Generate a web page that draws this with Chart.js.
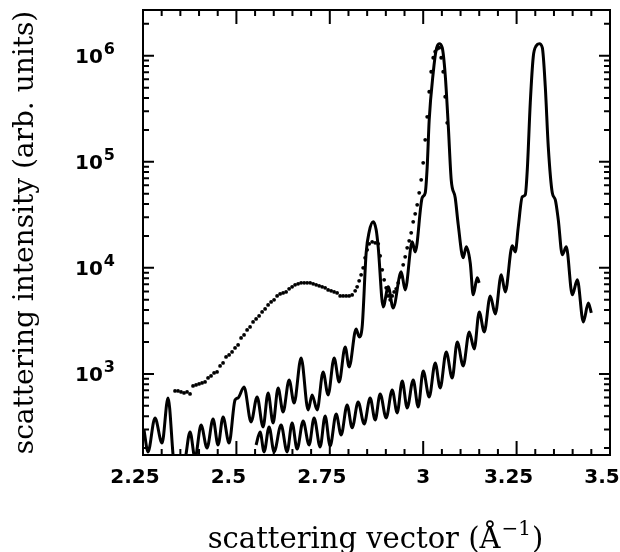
<!DOCTYPE html>
<html>
<head>
<meta charset="utf-8">
<script src="https://cdn.jsdelivr.net/npm/chart.js@4.4.1/dist/chart.umd.min.js"></script>
<style>
  body { margin: 0; background: #fff; }
  canvas { display: block; }
</style>
</head>
<body>
<canvas id="chart" width="620" height="552"></canvas>
<script>
// measured points (dots)
const qMeasured = [2.3357, 2.3438, 2.3518, 2.3598, 2.3679, 2.3759, 2.3839, 2.392, 2.4, 2.408,
  2.4161, 2.4241, 2.4321, 2.4402, 2.4482, 2.4563, 2.4643, 2.4723, 2.4804, 2.4884,
  2.4964, 2.5045, 2.5125, 2.5205, 2.5286, 2.5366, 2.5446, 2.5527, 2.5607, 2.5688,
  2.5768, 2.5848, 2.5929, 2.6009, 2.6089, 2.617, 2.625, 2.633, 2.6411, 2.6491,
  2.6571, 2.6652, 2.6732, 2.6813, 2.6893, 2.6973, 2.7054, 2.7134, 2.7214, 2.7295,
  2.7375, 2.7455, 2.7536, 2.7616, 2.7696, 2.7777, 2.7857, 2.7938, 2.8018, 2.8098,
  2.8179, 2.8232, 2.8286, 2.8339, 2.8393, 2.8446, 2.85, 2.8554, 2.8634, 2.8714,
  2.8795, 2.8848, 2.8902, 2.8955, 2.9009, 2.9063, 2.9116, 2.917, 2.9223, 2.9277,
  2.933, 2.9384, 2.9464, 2.9518, 2.9571, 2.9625, 2.9679, 2.9732, 2.9786, 2.9839,
  2.9893, 2.9946, 3.0, 3.0054, 3.0107, 3.0161, 3.0214, 3.0268, 3.0321, 3.0375,
  3.0429, 3.0482, 3.0536, 3.0589, 3.0643];
const iMeasured = [692, 692, 677, 662, 677, 648, 771, 788, 805, 823,
  841, 917, 958, 1022, 1044, 1190, 1270, 1447, 1511, 1613,
  1759, 1877, 2186, 2333, 2601, 2776, 3095, 3303, 3526, 3846,
  4105, 4477, 4778, 4991, 5442, 5685, 5810, 5937, 6338, 6620,
  6914, 7066, 7221, 7221, 7221, 7221, 7066, 6914, 6765, 6620,
  6477, 6201, 6068, 5937, 5810, 5442, 5442, 5442, 5442, 5560,
  6068, 6620, 7542, 8590, 10000, 12430, 14790, 16840, 17590, 17210,
  16840, 12980, 9575, 7708, 6477, 5442, 4991, 5442, 5937, 6338,
  7221, 8227, 10674, 12700, 15440, 17970, 21390, 27160, 32320, 39300,
  51010, 67650, 97860, 161300, 265800, 457600, 706600, 957500, 1091000, 1164000,
  1190000, 957500, 706600, 410500, 233300];

// first calculated curve (peaks at 2.87 and 3.04)
const qCalcA = [2.2527, 2.2634, 2.2821, 2.3009, 2.317, 2.333, 2.3464, 2.3625, 2.3759, 2.3893,
  2.4054, 2.4214, 2.4375, 2.4509, 2.4643, 2.4804, 2.4964, 2.5045, 2.5205, 2.5393,
  2.5554, 2.5714, 2.5848, 2.5982, 2.6116, 2.625, 2.6411, 2.6545, 2.6732, 2.692,
  2.7027, 2.7161, 2.7321, 2.7455, 2.7616, 2.775, 2.7911, 2.8018, 2.8205, 2.8286,
  2.8366, 2.8473, 2.8554, 2.8661, 2.8741, 2.8795, 2.8929, 2.9063, 2.9196, 2.9411,
  2.9518, 2.9705, 2.9786, 2.9973, 3.0054, 3.0107, 3.0161, 3.0268, 3.0348, 3.0429,
  3.0509, 3.0589, 3.067, 3.075, 3.0857, 3.0938, 3.1071, 3.1152, 3.1259, 3.1339,
  3.1446, 3.15];
const iCalcA = [296, 184, 385, 223, 594, 140, 110, 154, 284, 161,
  330, 200, 376, 214, 393, 223, 568, 594, 754, 353,
  607, 316, 662, 345, 738, 438, 878, 532, 1416, 458,
  634, 458, 1044, 634, 1416, 841, 1798, 1164, 2658, 2234,
  2776, 13850, 21860, 27160, 22830, 15780, 4286, 6620, 4194, 9170,
  6201, 17590, 14150, 45750, 51010, 89700, 249000, 691000, 1139000, 1298000,
  1190000, 662000, 223400, 67650, 45750, 25450, 12430, 15780, 11150, 5564,
  8050, 7221];

// second calculated curve (peak at 3.31)
const qCalcB = [2.5527, 2.5634, 2.5741, 2.5875, 2.6009, 2.6196, 2.6357, 2.6491, 2.6625, 2.6786,
  2.6946, 2.708, 2.7241, 2.7375, 2.7509, 2.767, 2.7804, 2.7964, 2.8098, 2.8259,
  2.842, 2.858, 2.8714, 2.8848, 2.9009, 2.917, 2.9304, 2.9438, 2.9571, 2.9732,
  2.9866, 3.0, 3.0161, 3.0321, 3.0455, 3.0616, 3.0777, 3.0911, 3.1071, 3.1232,
  3.1366, 3.15, 3.1634, 3.1795, 3.1929, 3.2089, 3.2196, 3.2384, 3.2464, 3.2545,
  3.2652, 3.2732, 3.2786, 3.2866, 3.2946, 3.3027, 3.3107, 3.3188, 3.3268, 3.3348,
  3.3455, 3.3536, 3.3616, 3.3723, 3.383, 3.3991, 3.4125, 3.4286, 3.442, 3.45];
const iCalcB = [214, 284, 184, 316, 184, 330, 184, 345, 196, 360,
  214, 385, 205, 402, 209, 419, 266, 510, 310, 544,
  338, 594, 368, 648, 385, 707, 429, 859, 478, 878,
  488, 1067, 607, 1270, 738, 1613, 917, 2004, 1190, 2490,
  1721, 3846, 2490, 5442, 3681, 8590, 5937, 16130, 14150, 24370,
  46740, 48830, 84040, 360300, 978600, 1243000, 1298000, 1190000, 509900, 138500,
  51010, 43800, 28370, 13260, 15780, 5564, 7708, 3095, 4675, 3763];

const xTickLabels = [2.25, 2.5, 2.75, 3, 3.25, 3.5];
const yTickLabels = [1e3, 1e4, 1e5, 1e6];

const toPoints = (xs, ys) => xs.map((x, i) => ({ x: x, y: ys[i] }));

// minor ticks every 0.05 on x, 1..9 per decade on y
const xTicks = [];
for (let k = 0; k <= 25; k++) xTicks.push(Math.round((2.25 + k * 0.05) * 100) / 100);
const yTicks = [];
for (let e = 2; e <= 6; e++) {
  for (let m = 1; m <= 9; m++) {
    const v = m * Math.pow(10, e);
    if (v >= 172 && v <= 2.7e6) yTicks.push(v);
  }
}

const frameTicks = {
  id: 'frameTicks',
  afterDraw(chart) {
    const { ctx, chartArea: a, scales } = chart;
    const x = scales.x, y = scales.y;
    ctx.save();
    ctx.strokeStyle = '#000';
    ctx.lineWidth = 2;
    ctx.strokeRect(a.left, a.top, a.right - a.left, a.bottom - a.top);
    ctx.beginPath();
    x.ticks.forEach(t => {
      const px = x.getPixelForValue(t.value);
      const len = xTickLabels.includes(t.value) ? 14 : 6;
      ctx.moveTo(px, a.bottom); ctx.lineTo(px, a.bottom - len);
      ctx.moveTo(px, a.top); ctx.lineTo(px, a.top + len);
    });
    y.ticks.forEach(t => {
      const py = y.getPixelForValue(t.value);
      const len = yTickLabels.includes(t.value) ? 11 : 6;
      ctx.moveTo(a.left, py); ctx.lineTo(a.left + len, py);
      ctx.moveTo(a.right, py); ctx.lineTo(a.right - len, py);
    });
    ctx.stroke();

    ctx.fillStyle = '#000';
    ctx.textBaseline = 'alphabetic';
    // x labels
    ctx.font = 'bold 20px "DejaVu Sans"';
    ctx.textAlign = 'center';
    xTickLabels.forEach(v => {
      const s = String(v);
      const px = x.getPixelForValue(v) - (s.length > 1 ? 8 : 0);
      ctx.fillText(s, px, a.bottom + 28);
    });
    // y labels as 10^n
    ctx.textAlign = 'right';
    yTickLabels.forEach(v => {
      const py = y.getPixelForValue(v);
      const e = String(Math.round(Math.log10(v)));
      const right = a.left - 28;
      ctx.font = 'bold 16px "DejaVu Sans"';
      const we = ctx.measureText(e).width;
      ctx.fillText(e, right, py - 2);
      ctx.font = 'bold 20px "DejaVu Sans"';
      ctx.fillText('10', right - we - 1, py + 7);
    });

    // x axis title with a real superscript
    const main = 'scattering vector (Å', supTxt = '−1', close = ')';
    const fMain = '29px "DejaVu Serif"', fSup = '20px "DejaVu Serif"';
    ctx.textAlign = 'left';
    ctx.font = fMain;
    const w1 = ctx.measureText(main).width, w3 = ctx.measureText(close).width;
    ctx.font = fSup;
    const w2 = ctx.measureText(supTxt).width;
    let tx = (a.left + a.right) / 2 - 2 - (w1 + w2 + w3) / 2;
    const base = 548;
    ctx.font = fMain; ctx.fillText(main, tx, base); tx += w1 + 1;
    ctx.font = fSup; ctx.fillText(supTxt, tx, base - 13); tx += w2 + 1;
    ctx.font = fMain; ctx.fillText(close, tx, base);
    ctx.restore();
  }
};

Chart.defaults.font.family = '"DejaVu Sans"';
Chart.defaults.color = '#000';

new Chart(document.getElementById('chart'), {
  type: 'line',
  data: {
    datasets: [
      {
        label: 'measured',
        data: toPoints(qMeasured, iMeasured),
        showLine: false,
        pointRadius: 1.9,
        pointBackgroundColor: '#000',
        pointBorderWidth: 0
      },
      {
        label: 'calculated A',
        data: toPoints(qCalcA, iCalcA),
        borderColor: '#000',
        borderWidth: 3,
        pointRadius: 0,
        cubicInterpolationMode: 'monotone',
        fill: false
      },
      {
        label: 'calculated B',
        data: toPoints(qCalcB, iCalcB),
        borderColor: '#000',
        borderWidth: 3,
        pointRadius: 0,
        cubicInterpolationMode: 'monotone',
        fill: false
      }
    ]
  },
  options: {
    responsive: false,
    animation: false,
    layout: { padding: { top: 10, right: 10, left: 0, bottom: 0 } },
    plugins: { legend: { display: false }, tooltip: { enabled: false } },
    scales: {
      x: {
        type: 'linear',
        min: 2.25,
        max: 3.5,
        grid: { display: false },
        border: { display: false },
        ticks: { display: false },
        title: { display: false },
        afterBuildTicks: s => { s.ticks = xTicks.map(v => ({ value: v })); },
        afterFit: s => { s.height = 97; s.paddingLeft = 0; s.paddingRight = 0; }
      },
      y: {
        type: 'logarithmic',
        min: 172,
        max: 2.7e6,
        grid: { display: false },
        border: { display: false },
        ticks: { display: false },
        title: {
          display: true,
          text: 'scattering intensity (arb. units)',
          color: '#000',
          font: { family: '"DejaVu Serif"', size: 28, lineHeight: 1 },
          padding: { top: 12, bottom: 0 }
        },
        afterBuildTicks: s => { s.ticks = yTicks.map(v => ({ value: v })); },
        afterFit: s => { s.width = 143; s.paddingTop = 0; s.paddingBottom = 0; }
      }
    }
  },
  plugins: [frameTicks]
});
</script>
</body>
</html>
